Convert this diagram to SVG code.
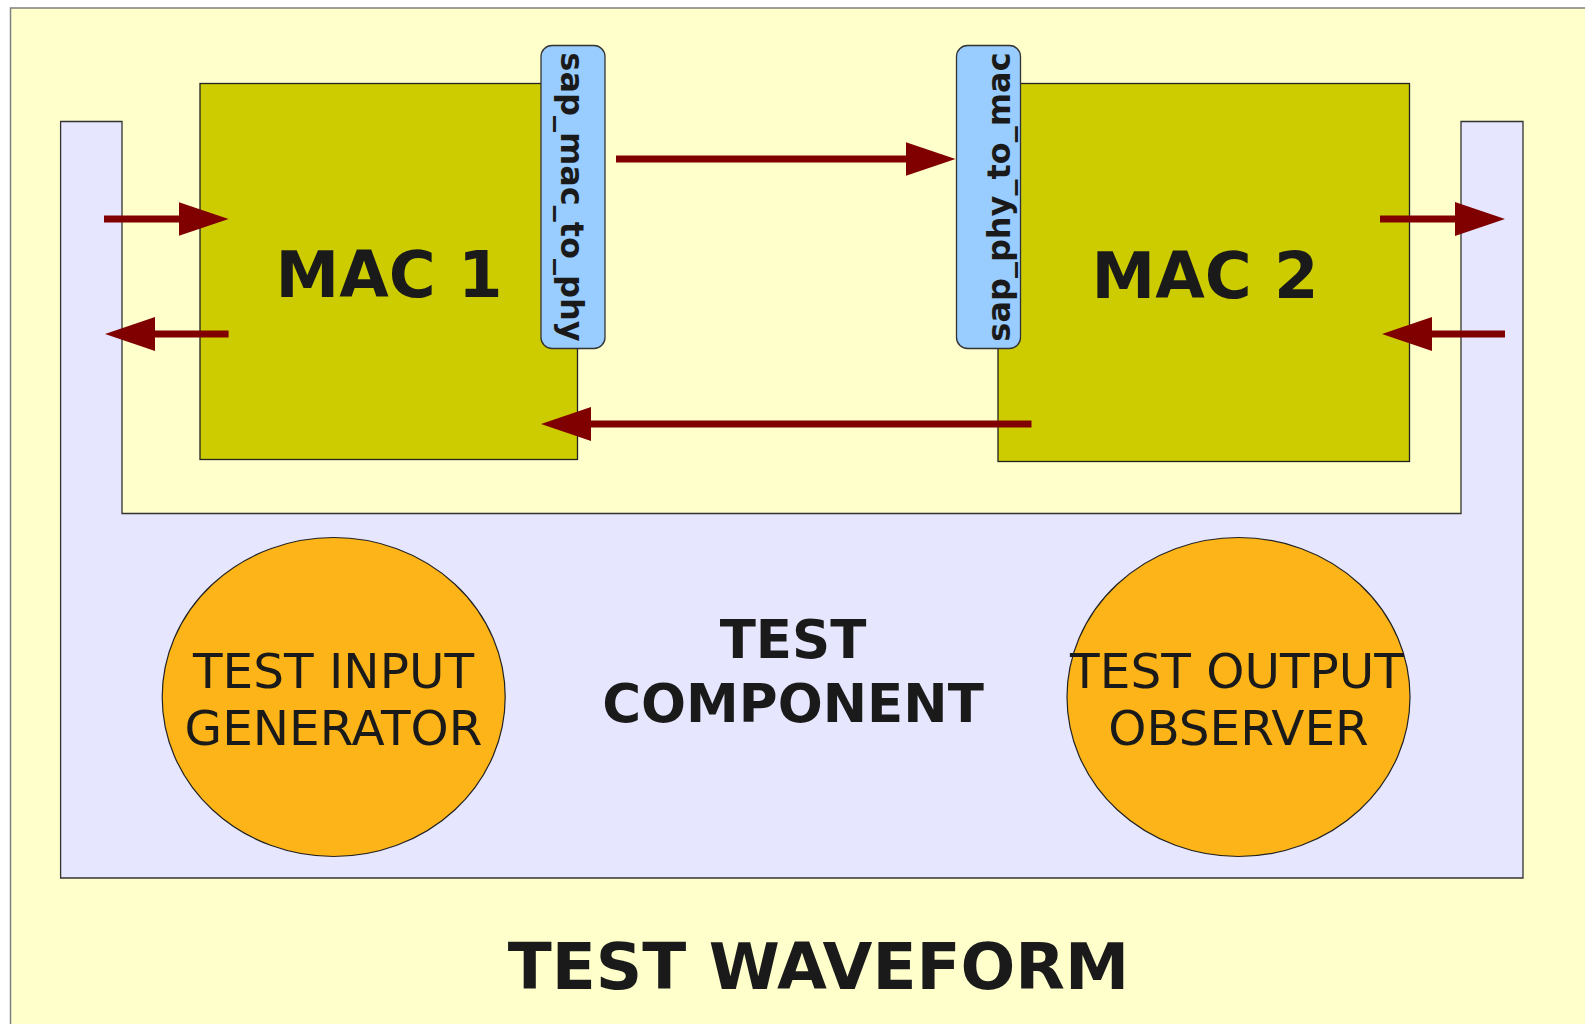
<svg xmlns="http://www.w3.org/2000/svg" width="1585" height="1024" viewBox="0 0 1585 1024">
<defs>
<style>
.t{font-family:"DejaVu Sans","Liberation Sans",sans-serif;fill:#1a1a1a;text-anchor:middle}
.b{font-weight:bold}
.mac{fill:#cccc00;stroke:#222;stroke-width:1.3}
.sap{fill:#99ccff;stroke:#333;stroke-width:1.3}
.ell{fill:#fdb418;stroke:#222;stroke-width:1.2}
.conn{stroke:#800000;stroke-width:7;fill:none;marker-end:url(#ah)}
</style>
<marker id="ah" markerUnits="userSpaceOnUse" markerWidth="52" markerHeight="36" refX="5" refY="17" orient="auto" viewBox="0 0 52 36">
<path d="M0,0 L50,17 L0,34 Z" fill="#800000"/>
</marker>
</defs>
<rect x="0" y="0" width="1585" height="1024" fill="#ffffff"/>
<g id="waveform">
<rect x="10.5" y="8" width="1600" height="1100" fill="#ffffcc" stroke="#7f7f7f" stroke-width="1.5"/>
<text class="t b" x="818.5" y="988.5" font-size="64.5">TEST WAVEFORM</text>
</g>
<g id="test-component">
<path d="M60.6,121.5 H122 V513.5 H1461 V121.5 H1523 V878 H60.6 Z" fill="#e6e6ff" stroke="#333" stroke-width="1.3"/>
<text class="t b" x="793" y="658" font-size="53">TEST</text>
<text class="t b" x="793" y="722" font-size="53">COMPONENT</text>
</g>
<g id="mac1">
<rect class="mac" x="200" y="83.5" width="377.5" height="376"/>
<text class="t b" x="389" y="297" font-size="64">MAC 1</text>
</g>
<g id="mac2">
<rect class="mac" x="998" y="83.5" width="411.5" height="378"/>
<text class="t b" x="1205" y="298" font-size="64">MAC 2</text>
</g>
<g id="sap_mac_to_phy">
<rect class="sap" x="541" y="45.5" width="64" height="303" rx="11"/>
<text class="t b" transform="translate(561,197) rotate(90)" x="0" y="0" font-size="32">sap_mac_to_phy</text>
</g>
<g id="sap_phy_to_mac">
<rect class="sap" x="956.5" y="45.5" width="64" height="303" rx="11"/>
<text class="t b" transform="translate(1009.5,197) rotate(-90)" x="0" y="0" font-size="32">sap_phy_to_mac</text>
</g>
<g id="connectors">
<line class="conn" x1="104" y1="219" x2="183.6" y2="219"/>
<line class="conn" x1="228.6" y1="334" x2="150" y2="334"/>
<line class="conn" x1="616" y1="159" x2="910.5" y2="159"/>
<line class="conn" x1="1031.5" y1="424" x2="586" y2="424"/>
<line class="conn" x1="1380" y1="219" x2="1460" y2="219"/>
<line class="conn" x1="1505" y1="334" x2="1427" y2="334"/>
</g>
<g id="test-input-generator">
<ellipse class="ell" cx="333.7" cy="697" rx="171.5" ry="159.5"/>
<text class="t" x="333.5" y="688" font-size="48.5">TEST INPUT</text>
<text class="t" x="333.5" y="745" font-size="48.5">GENERATOR</text>
</g>
<g id="test-output-observer">
<ellipse class="ell" cx="1238.5" cy="697" rx="171.5" ry="159.5"/>
<text class="t" x="1237" y="688" font-size="48.5">TEST OUTPUT</text>
<text class="t" x="1238.5" y="745" font-size="48.5">OBSERVER</text>
</g>
</svg>
